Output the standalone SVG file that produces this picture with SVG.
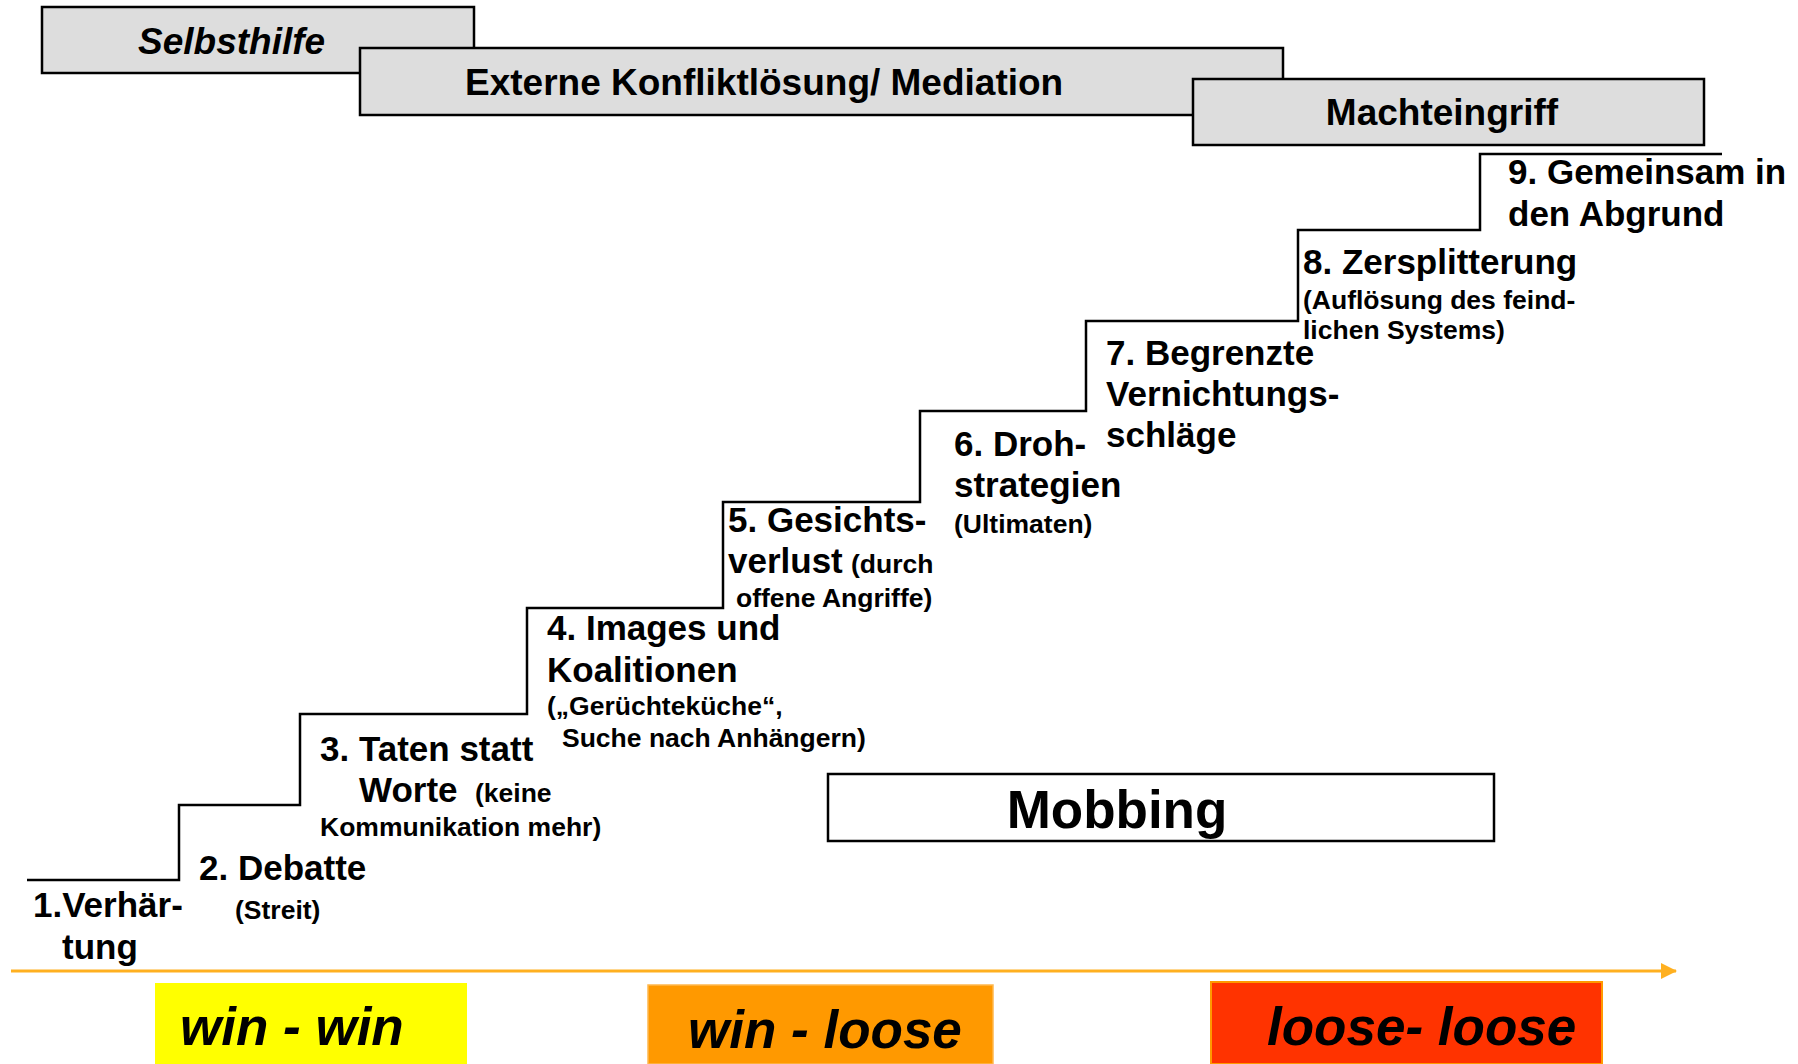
<svg xmlns="http://www.w3.org/2000/svg" width="1798" height="1064" viewBox="0 0 1798 1064">
<style>
  text { font-family: "Liberation Sans", Arial, sans-serif; font-weight: bold; fill: #000; }
  .hdr { fill: #DDDDDD; stroke: #000; stroke-width: 2.5; }
  .ht { font-size: 37px; }
  .big { font-size: 35px; }
  .sm { font-size: 26.5px; }
  .res { font-size: 53px; font-style: italic; }
  .stair { fill: none; stroke: #000; stroke-width: 2.5; }
</style>
<defs>
  <marker id="arr" markerWidth="16" markerHeight="16" refX="15" refY="8" orient="auto" markerUnits="userSpaceOnUse">
    <path d="M0,0 L16,8 L0,16 Z" fill="#FFB020"/>
  </marker>
</defs>
<rect width="1798" height="1064" fill="#fff"/>

<g id="selbsthilfe">
  <rect class="hdr" x="42" y="7" width="432" height="66"/>
  <text class="ht" x="138" y="54" font-style="italic">Selbsthilfe</text>
</g>
<g id="mediation">
  <rect class="hdr" x="360" y="48" width="923" height="67"/>
  <text class="ht" x="465" y="95">Externe Konfliktlösung/ Mediation</text>
</g>
<g id="machteingriff">
  <rect class="hdr" x="1193" y="79" width="511" height="66"/>
  <text class="ht" x="1442" y="125" text-anchor="middle">Machteingriff</text>
</g>

<g id="connectors">
  <path class="stair" d="M27,880 H179 V805 H300 V714 H527 V608 H723 V502 H920 V411 H1086 V321 H1298 V230 H1480 V154 H1722"/>
  <line x1="11" y1="971" x2="1676" y2="971" stroke="#FFB020" stroke-width="3" marker-end="url(#arr)"/>
</g>

<g id="stufe1">
  <text class="big" x="33" y="917">1.Verhär-</text>
  <text class="big" x="62" y="959">tung</text>
</g>
<g id="stufe2">
  <text class="big" x="199" y="880">2. Debatte</text>
  <text class="sm" x="235" y="919">(Streit)</text>
</g>
<g id="stufe3">
  <text class="big" x="320" y="761">3. Taten statt</text>
  <text class="big" x="359" y="802">Worte</text>
  <text class="sm" x="475" y="802">(keine</text>
  <text class="sm" x="320" y="836">Kommunikation mehr)</text>
</g>
<g id="stufe4">
  <text class="big" x="547" y="640">4. Images und</text>
  <text class="big" x="547" y="682">Koalitionen</text>
  <text class="sm" x="547" y="715">(„Gerüchteküche“,</text>
  <text class="sm" x="562" y="747">Suche nach Anhängern)</text>
</g>
<g id="stufe5">
  <text class="big" x="728" y="532">5. Gesichts-</text>
  <text class="big" x="728" y="573">verlust</text>
  <text class="sm" x="851" y="573">(durch</text>
  <text class="sm" x="736" y="607">offene Angriffe)</text>
</g>
<g id="stufe6">
  <text class="big" x="954" y="456">6. Droh-</text>
  <text class="big" x="954" y="497">strategien</text>
  <text class="sm" x="954" y="533">(Ultimaten)</text>
</g>
<g id="stufe7">
  <text class="big" x="1106" y="365">7. Begrenzte</text>
  <text class="big" x="1106" y="406">Vernichtungs-</text>
  <text class="big" x="1106" y="447">schläge</text>
</g>
<g id="stufe8">
  <text class="big" x="1303" y="274">8. Zersplitterung</text>
  <text class="sm" x="1303" y="309">(Auflösung des feind-</text>
  <text class="sm" x="1303" y="339">lichen Systems)</text>
</g>
<g id="stufe9">
  <text class="big" x="1508" y="184">9. Gemeinsam in</text>
  <text class="big" x="1508" y="226">den Abgrund</text>
</g>

<g id="mobbing">
  <rect x="828" y="774" width="666" height="67" fill="#fff" stroke="#000" stroke-width="2.5"/>
  <text x="1117" y="828" font-size="53" text-anchor="middle">Mobbing</text>
</g>

<g id="win-win">
  <rect x="155" y="983" width="312" height="81" fill="#FFFF00"/>
  <text class="res" x="180" y="1045">win - win</text>
</g>
<g id="win-loose">
  <rect x="648" y="985" width="345" height="79" fill="#FF9900" stroke="#FFB84D" stroke-width="1.5"/>
  <text class="res" x="688" y="1048">win - loose</text>
</g>
<g id="loose-loose">
  <rect x="1211" y="982" width="391" height="82" fill="#FF3300" stroke="#FF9900" stroke-width="2"/>
  <text class="res" x="1267" y="1045">loose- loose</text>
</g>
</svg>
